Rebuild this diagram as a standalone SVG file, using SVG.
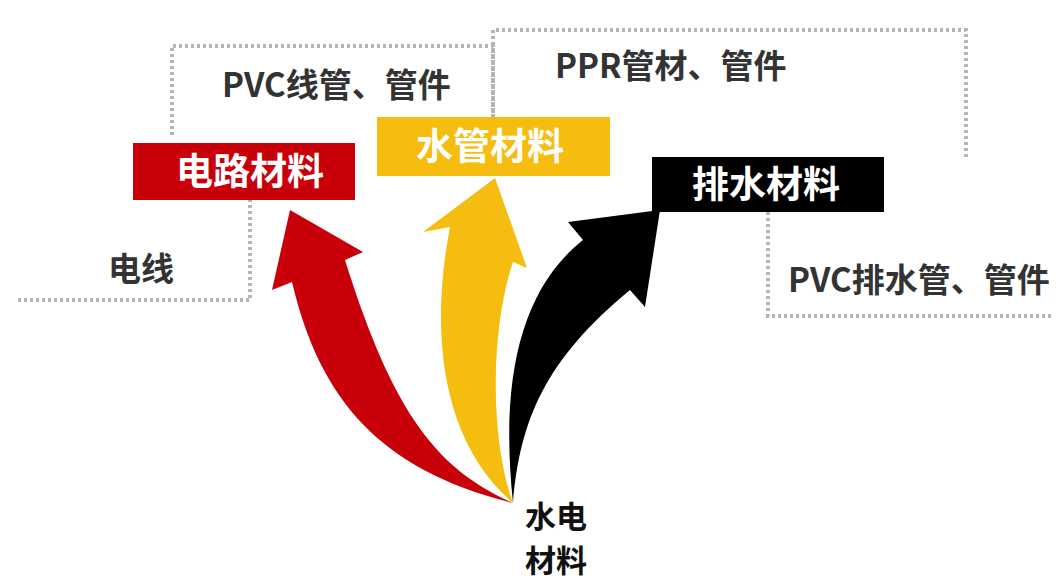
<svg xmlns="http://www.w3.org/2000/svg" width="1061" height="584" viewBox="0 0 1061 584">
<style>
.d{fill:none;stroke:#b5b5b5;stroke-width:4;stroke-dasharray:3 3}
.t{font-family:"Noto Sans CJK SC","Liberation Sans",sans-serif;font-weight:bold;font-size:33px;fill:#333}
.b{font-family:"Noto Sans CJK SC","Liberation Sans",sans-serif;font-weight:bold;font-size:31px;fill:#111}
.w{font-family:"Noto Sans CJK SC","Liberation Sans",sans-serif;font-weight:bold;font-size:37px;fill:#fff;text-anchor:middle}
</style>
<rect width="1061" height="584" fill="#fff"/>
<g id="dotted">
<path class="d" d="M18 300H250V200"/>
<path class="d" d="M172 135V46H493V117"/>
<path class="d" d="M493 117V30H966V157"/>
<path class="d" d="M768 212V316H1052"/>
</g>
<g id="connectors">
<path fill="#c8000a" d="M513 503C440 470 395 420 345 260L363 252L290 210L272 290L292 282C320 400 380 470 513 503Z"/>
<path fill="#f5bd0f" d="M513 503C490 440 490 330 513 262L527 268L495 178L423 232L450 227C430 330 440 440 513 503Z"/>
<path fill="#000" d="M513 503C520 420 545 360 630 290L645 307L660 210L568 222L583 240C520 290 500 380 513 503Z"/>
</g>
<g id="n1"><rect x="133" y="143" width="222" height="57" fill="#c8000a"/><text class="w" x="250" y="185">电路材料</text></g>
<g id="n2"><rect x="377" y="117" width="233" height="59" fill="#f5bd0f"/><text class="w" x="490" y="160">水管材料</text></g>
<g id="n3"><rect x="652" y="157" width="232" height="55" fill="#000"/><text class="w" x="766" y="198">排水材料</text></g>
<g id="labels">
<text class="t" x="222" y="97">PVC线管、管件</text>
<text class="t" x="555" y="78">PPR管材、管件</text>
<text class="t" x="108" y="281">电线</text>
<text class="t" x="788" y="292">PVC排水管、管件</text>
<text class="b" x="525" y="528">水电</text>
<text class="b" x="525" y="572">材料</text>
</g>
</svg>
